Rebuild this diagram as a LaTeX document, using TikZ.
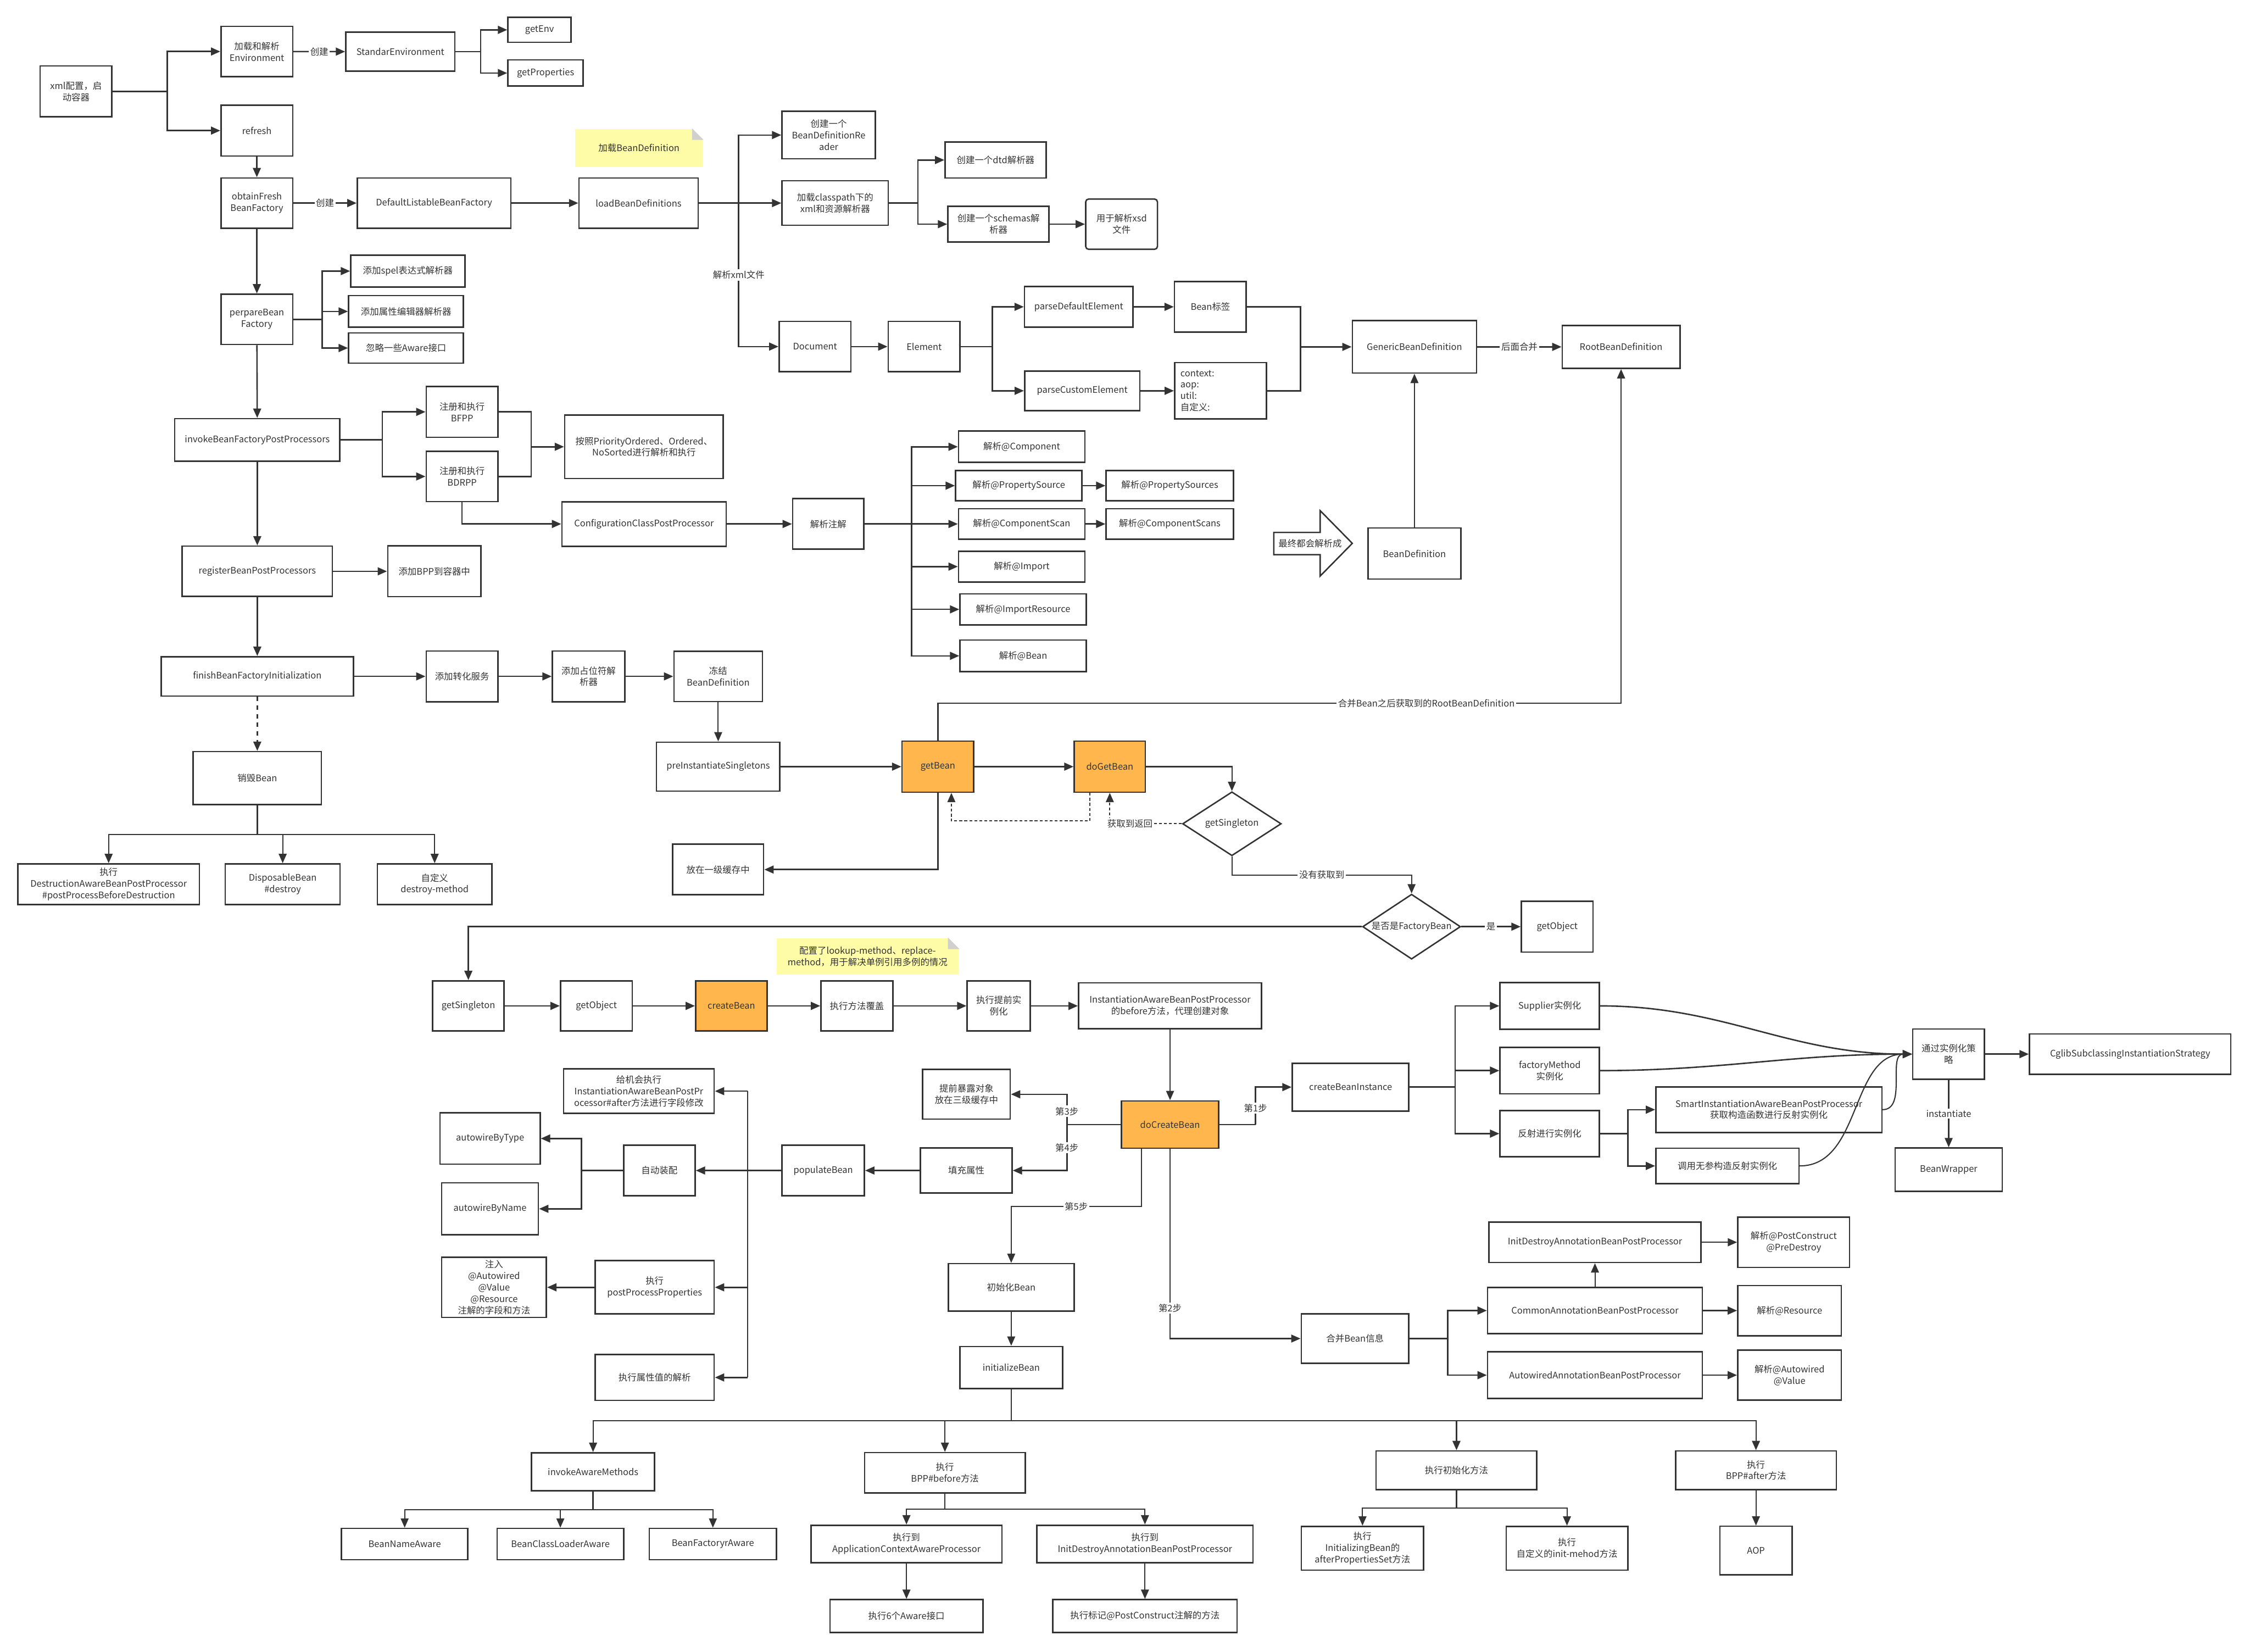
\documentclass[tikz,border=0pt]{standalone}
\usepackage{fontspec}
\setmainfont{Noto Sans CJK SC}
\usetikzlibrary{arrows.meta,shapes.geometric}
\definecolor{linegray}{HTML}{333333}
\definecolor{beanorange}{HTML}{FFB74D}
\definecolor{notey}{HTML}{FFFCA8}
\definecolor{foldgray}{HTML}{D0D0D0}

\begin{document}
\begin{tikzpicture}[x=1pt,y=-1pt,>={Triangle[length=6.5pt,width=5.5pt]},
  line width=1pt,color=linegray,font=\fontsize{6.3}{8}\selectfont,
  box/.style={draw,rectangle,inner sep=1pt,align=center},
  sz/.style 2 args={minimum width=#1,minimum height=#2},
  bean/.style={box,fill=beanorange},
  cond/.style={draw,diamond,aspect=1.5,inner sep=0pt,align=center},
  notebox/.style={fill=notey,inner sep=1pt,align=center},
  lbl/.style={fill=white,inner sep=1pt},
  thinline/.style={line width=0.8pt},
  ret/.style={line width=0.8pt,dash pattern=on 2pt off 1.5pt}]

  \fill[white] (0,0) rectangle (1568,1151);
  \useasboundingbox (0,0) rectangle (1568,1151);

  % refresh and bean definitions
  \node[box,sz={50}{35.5}]   (xml)       at (53,63.7)     {xml配置，启\\动容器};
  \node[box,sz={50}{35}]     (env)       at (179,35.9)    {加载和解析\\Environment};
  \node[box,sz={76}{27}]     (stdenv)    at (279,36)      {StandarEnvironment};
  \node[box,sz={44}{17.5}]   (getenv)    at (376,20.8)    {getEnv};
  \node[box,sz={52.5}{18.2}] (getprop)   at (380.2,50.9)  {getProperties};
  \node[box,sz={50}{35.3}]   (refresh)   at (179,91)      {refresh};
  \node[box,sz={50}{35}]     (obtain)    at (179,141.5)   {obtainFresh\\BeanFactory};
  \node[box,sz={107}{35}]    (dlbf)      at (302.5,141.5) {DefaultListableBeanFactory};
  \node[box,sz={83}{35}]     (loadbd)    at (445,141.5)   {loadBeanDefinitions};
  \node[notebox,sz={89}{26.4}] (note1)   at (445.3,103.2) {加载BeanDefinition};
  \node[box,sz={65}{33}]     (bdreader)  at (577.5,94.1)  {创建一个\\BeanDefinitionRe\\ader};
  \node[box,sz={74}{31}]     (classpath) at (582,141.5)   {加载classpath下的\\xml和资源解析器};
  \node[box,sz={70.4}{25}]   (dtd)       at (693.8,111.5) {创建一个dtd解析器};
  \node[box,sz={70.4}{25}]   (schemas)   at (695.8,156.2) {创建一个schemas解\\析器};
  \node[box,sz={50}{35},rounded corners=2pt] (xsd) at (781.6,156.2) {用于解析xsd\\文件};
  \node[box,sz={50}{35}]     (document)  at (568,241.5)   {Document};
  \node[box,sz={50}{35}]     (element)   at (644,241.5)   {Element};
  \node[box,sz={75.7}{28.3}] (pde)       at (751.8,213.8) {parseDefaultElement};
  \node[box,sz={80.3}{27.6}] (pce)       at (754.2,272.3) {parseCustomElement};
  \node[box,sz={50}{35.4}]   (beantag)   at (843.5,213.8) {Bean标签};
  \node[box,text width=56pt,inner sep=4pt,minimum height=39.4,align=left] (ctx) at (850.6,272.3) {context:\\aop:\\util:\\自定义:};
  \node[box,sz={86.6}{36.5}] (generic)   at (985.7,241.7) {GenericBeanDefinition};
  \node[box,sz={82}{30}]     (root)      at (1129.7,241.7) {RootBeanDefinition};
  \node[box,sz={50}{35}]     (perpare)   at (179,222.5)   {perpareBean\\Factory};
  \node[box,sz={79.5}{22.3}] (spel)      at (284.2,188.9) {添加spel表达式解析器};
  \node[box,sz={80}{22}]     (editor)    at (283,217)     {添加属性编辑器解析器};
  \node[box,sz={80}{21}]     (aware)     at (283,242.5)   {忽略一些Aware接口};
  \node[box,sz={115}{29.6}]  (invoke)    at (179.3,306.5) {invokeBeanFactoryPostProcessors};
  \node[box,sz={50}{35.4}]   (bfpp)      at (322,287)     {注册和执行\\BFPP};
  \node[box,sz={50}{35}]     (bdrpp)     at (322,332)     {注册和执行\\BDRPP};
  \node[box,sz={110.5}{44.2}] (order)    at (448.8,311.3) {按照PriorityOrdered、Ordered、\\NoSorted进行解析和执行};
  \node[box,sz={114.4}{31}]  (ccpp)      at (448.8,365.1) {ConfigurationClassPostProcessor};
  \node[box,sz={49.6}{35.2}] (parseanno) at (577.2,365.1) {解析注解};
  \node[box,sz={88}{21.8}]   (pcomp)     at (712,311.3)   {解析@Component};
  \node[box,sz={88}{21.2}]   (ppsrc)     at (710,338.4)   {解析@PropertySource};
  \node[box,sz={88.7}{21.2}] (ppsrcs)    at (815.2,338.4) {解析@PropertySources};
  \node[box,sz={88}{21.2}]   (pscan)     at (712,365.1)   {解析@ComponentScan};
  \node[box,sz={88.7}{21.2}] (pscans)    at (815.2,365.1) {解析@ComponentScans};
  \node[box,sz={88}{21.5}]   (pimport)   at (712,394.8)   {解析@Import};
  \node[box,sz={88}{21.6}]   (pimpres)   at (713,424.6)   {解析@ImportResource};
  \node[box,sz={88}{22}]     (pbean)     at (713,457)     {解析@Bean};
  \node[box,sz={64.8}{35.5}] (bd)        at (985.7,385.7) {BeanDefinition};
  \node[box,sz={104.7}{35.1}] (register) at (179.3,398.1) {registerBeanPostProcessors};
  \node[box,sz={65}{35.4}]   (addbpp)    at (302.7,398.1) {添加BPP到容器中};
  \node[box,sz={134}{27.5}]  (finish)    at (179.3,471.3) {finishBeanFactoryInitialization};
  \node[box,sz={50}{35.3}]   (convsvc)   at (322,471.3)   {添加转化服务};
  \node[box,sz={50.5}{35.3}] (placeholder) at (410.2,471.3) {添加占位符解\\析器};
  \node[box,sz={61.7}{35.1}] (freeze)    at (500.5,471.3) {冻结\\BeanDefinition};
  \node[box,sz={89.4}{37}]   (destroy)   at (179.3,542.2) {销毁Bean};
  \node[box,sz={126.6}{28.3}] (dab)      at (75.7,616.1)  {执行\\DestructionAwareBeanPostProcessor\\\#postProcessBeforeDestruction};
  \node[box,sz={80}{28.3}]   (disp)      at (197,616.1)   {DisposableBean\\\#destroy};
  \node[box,sz={79.8}{28.3}] (dmethod)   at (302.9,616.1) {自定义\\destroy-method};

  % getBean
  \node[box,sz={86}{34.2}]   (preinst)   at (500.5,534.2) {preInstantiateSingletons};
  \node[bean,sz={50}{35.5}]  (getbean)   at (653.6,534.2) {getBean};
  \node[bean,sz={49.6}{35.5}] (dogetbean) at (773.4,534.2) {doGetBean};
  \node[box,sz={63.5}{35.2}] (cache1)    at (500.4,605.9) {放在一级缓存中};
  \node[cond,sz={68.8}{44.6}] (gs1)      at (858.5,574)   {getSingleton};
  \node[cond,sz={68.3}{45.3}] (isfb)     at (983.7,645.7) {是否是FactoryBean};
  \node[box,sz={50}{35.4}]   (getobj1)   at (1085.2,645.7) {getObject};

  % createBean
  \node[box,sz={49.8}{35}]   (gs2)       at (326.4,700.9) {getSingleton};
  \node[box,sz={50}{35}]     (getobj2)   at (415.6,700.9) {getObject};
  \node[bean,sz={49.8}{35}]  (createbean) at (509.7,700.9) {createBean};
  \node[box,sz={50.2}{35}]   (override)  at (597.2,700.9) {执行方法覆盖};
  \node[box,sz={44}{35}]     (preinstant) at (696,700.9)  {执行提前实\\例化};
  \node[box,sz={127.5}{32}]  (iabpp)     at (815.4,700.9) {InstantiationAwareBeanPostProcessor\\的before方法，代理创建对象};
  \node[notebox,sz={127}{25.4}] (note2)  at (604.6,666.5) {配置了lookup-method、replace-\\method，用于解决单例引用多例的情况};
  \node[bean,sz={67.7}{33}]  (docreate)  at (815.4,783.6) {doCreateBean};
  \node[box,sz={61}{34.6}]   (early)     at (673.5,762.5) {提前暴露对象\\放在三级缓存中};
  \node[box,sz={63.8}{31.3}] (fill)      at (673.4,815.6) {填充属性};
  \node[box,sz={57.4}{35.2}] (populate)  at (573.7,815.6) {populateBean};
  \node[box,sz={49.8}{35.2}] (autowire)  at (459.5,815.6) {自动装配};
  \node[box,sz={105}{31}]    (chance)    at (445.2,760.3) {给机会执行\\InstantiationAwareBeanPostPr\\ocessor\#after方法进行字段修改};
  \node[box,sz={69.8}{35.8}] (bytype)    at (341.5,793.3) {autowireByType};
  \node[box,sz={67.4}{36.2}] (byname)    at (341.5,842.3) {autowireByName};
  \node[box,sz={73}{42},inner sep=0pt] (inject) at (344.3,897) {注入\\@Autowired\\@Value\\@Resource\\注解的字段和方法};
  \node[box,sz={83}{37.2}]   (ppp)       at (456.2,897)   {执行\\postProcessProperties};
  \node[box,sz={83}{32}]     (resolve)   at (456.2,959.8) {执行属性值的解析};
  \node[box,sz={87.7}{33}]   (initbean)  at (704.7,897)   {初始化Bean};
  \node[box,sz={71.7}{29.4}] (initialize) at (704.7,952.9) {initializeBean};
  \node[box,sz={81.2}{33.3}] (cbi)       at (941.2,757.5) {createBeanInstance};
  \node[box,sz={69.3}{32.6}] (supplier)  at (1080,700.9)  {Supplier实例化};
  \node[box,sz={69.3}{32.3}] (factorym)  at (1080,746)    {factoryMethod\\实例化};
  \node[box,sz={69.3}{32.3}] (reflect)   at (1080,789.9)  {反射进行实例化};
  \node[box,sz={157.5}{31.7}] (smart)    at (1232.7,773.2) {SmartInstantiationAwareBeanPostProcessor\\获取构造函数进行反射实例化};
  \node[box,sz={99.7}{24.7}] (noarg)     at (1203.8,812.4) {调用无参构造反射实例化};
  \node[box,sz={50}{35}]     (strategy)  at (1358,734.5)  {通过实例化策\\略};
  \node[box,sz={140.3}{28.1}] (cglib)    at (1484.5,734.5) {CglibSubclassingInstantiationStrategy};
  \node[box,sz={74.6}{30.2}] (wrapper)   at (1358,815)    {BeanWrapper};
  \node[box,sz={75}{34.6}]   (merge)     at (944.3,932.7) {合并Bean信息};
  \node[box,sz={147.8}{28.2}] (initdestroy) at (1111.5,865.6) {InitDestroyAnnotationBeanPostProcessor};
  \node[box,sz={149.7}{32.3}] (common)   at (1111.5,913.2) {CommonAnnotationBeanPostProcessor};
  \node[box,sz={149.7}{32.5}] (autowiredbpp) at (1111.5,958.2) {AutowiredAnnotationBeanPostProcessor};
  \node[box,sz={77.9}{35.1}] (postcons)  at (1250,865.6)  {解析@PostConstruct\\@PreDestroy};
  \node[box,sz={72.2}{35}]   (resource)  at (1247.1,913.2) {解析@Resource};
  \node[box,sz={72.2}{35}]   (autowiredval) at (1247.1,958.2) {解析@Autowired\\@Value};

  % initializeBean
  \node[box,sz={85.8}{26.5}] (invaware)  at (413.3,1025.5) {invokeAwareMethods};
  \node[box,sz={111.9}{28}]  (bppbefore) at (658.5,1026.2) {执行\\BPP\#before方法};
  \node[box,sz={112}{27}]    (initmethod) at (1015,1024.5) {执行初始化方法};
  \node[box,sz={112}{27}]    (bppafter)  at (1223.7,1024.5) {执行\\BPP\#after方法};
  \node[box,sz={88}{21.8}]   (beanname)  at (282,1075.9)  {BeanNameAware};
  \node[box,sz={88.2}{21.8}] (beancl)    at (390.5,1075.9) {BeanClassLoaderAware};
  \node[box,sz={88.7}{21.8}] (beanfac)   at (496.8,1075.9) {BeanFactoryrAware};
  \node[box,sz={133}{26.1}]  (acap)      at (631.7,1075.8) {执行到\\ApplicationContextAwareProcessor};
  \node[box,sz={150.5}{26.1}] (idabpp)   at (797.9,1075.8) {执行到\\InitDestroyAnnotationBeanPostProcessor};
  \node[box,sz={106.5}{22.8}] (six)      at (631.7,1126)  {执行6个Aware接口};
  \node[box,sz={128.5}{22.8}] (mark)     at (797.9,1126)  {执行标记@PostConstruct注解的方法};
  \node[box,sz={85.3}{30.5}] (afterprops) at (949.5,1078.8) {执行\\InitializingBean的\\afterPropertiesSet方法};
  \node[box,sz={84.8}{30.5}] (custinit)  at (1092,1078.8) {执行\\自定义的init-mehod方法};
  \node[box,sz={50.2}{33.8}] (aop)       at (1223.7,1080.4) {AOP};

  % note corners and the big arrow
  \fill[white] (note1.north east) -- ++(-8,0) -- ++(8,8) -- cycle;
  \fill[foldgray] ([xshift=-8pt]note1.north east) -- ++(0,8) -- ++(8,0) -- cycle;
  \fill[white] (note2.north east) -- ++(-8,0) -- ++(8,8) -- cycle;
  \fill[foldgray] ([xshift=-8pt]note2.north east) -- ++(0,8) -- ++(8,0) -- cycle;
  \draw[fill=white] (887.7,371) -- (920,371) -- (920,355.8) -- (942.4,378.6)
    -- (920,401.4) -- (920,386.5) -- (887.7,386.5) -- cycle;
  \node (convert) at (913,378.6) {最终都会解析成};

  \coordinate (xmlsplit) at (116.5,63.7);
  \coordinate (envsplit) at (335,36);
  \coordinate (ldsplit)  at (514.8,141.5);
  \coordinate (cpsplit)  at (639.6,141.5);
  \coordinate (elsplit)  at (691.6,241.5);
  \coordinate (gsplit)   at (906.3,241.7);
  \coordinate (ppsplit)  at (224.4,222.5);
  \coordinate (ivsplit)  at (266.4,306.5);
  \coordinate (fpsplit)  at (370.2,311.3);
  \coordinate (pasplit)  at (635.3,365.1);
  \coordinate (dssplit)  at (179.3,581.4);
  \coordinate (rbdl)     at (653.6,490);
  \coordinate (rbdr)     at (1129.7,490);
  \coordinate (nfl)      at (858.5,609.7);
  \coordinate (nfr)      at (983.7,609.7);
  \coordinate (s34)      at (743.5,783.6);
  \coordinate (s1)       at (875,783.6);
  \coordinate (s5a)      at (795.3,840.7);
  \coordinate (s5b)      at (704.7,840.7);
  \coordinate (pbtop)    at (521,760.3);
  \coordinate (pbbot)    at (521,959.8);
  \coordinate (awsplit)  at (405.1,815.6);
  \coordinate (ibus)     at (704.7,990);
  \coordinate (iasplit)  at (413.3,1052);
  \coordinate (bbsplit)  at (658.5,1051.6);
  \coordinate (imsplit)  at (1015,1050.7);
  \coordinate (cisplit)  at (1014,757.5);
  \coordinate (rfsplit)  at (1134.5,789.9);
  \coordinate (mgsplit)  at (1009,932.7);

  \path[->]
    (env) edge node[lbl] {创建} (stdenv)
    (refresh) edge (obtain)
    (obtain) edge node[lbl] {创建} (dlbf)
    (obtain) edge (perpare)
    (perpare) edge (invoke)
    (invoke) edge (register)
    (register) edge (finish)
    (register) edge (addbpp)
    (dlbf) edge (loadbd)
    (ldsplit) edge (classpath)
    (schemas) edge (xsd)
    (document) edge (element)
    (pde) edge (beantag)
    (pce) edge (ctx)
    (gsplit) edge (generic)
    (generic) edge node[lbl] {后面合并} (root)
    (bd) edge[thinline] (generic)
    (fpsplit) edge (order)
    (ccpp) edge (parseanno)
    (ppsrc) edge (ppsrcs)
    (pscan) edge (pscans)
    (finish) edge (convsvc)
    (convsvc) edge (placeholder)
    (placeholder) edge (freeze)
    (freeze) edge[thinline] (preinst)
    (finish) edge[dashed] (destroy)
    (preinst) edge (getbean)
    (getbean) edge (dogetbean)
    (isfb) edge node[lbl] {是} (getobj1)
    (gs2) edge (getobj2)
    (getobj2) edge (createbean)
    (createbean) edge (override)
    (override) edge (preinstant)
    (preinstant) edge (iabpp)
    (iabpp) edge[thinline] (docreate)
    (fill) edge (populate)
    (populate) edge (autowire)
    (ppp) edge (inject)
    (initbean) edge[thinline] (initialize)
    (acap) edge[thinline] (six)
    (idabpp) edge[thinline] (mark)
    (bppafter) edge[thinline] (aop)
    (strategy) edge (cglib)
    (strategy) edge[thinline] node[lbl] {instantiate} (wrapper)
    (common) edge[thinline] (initdestroy)
    (initdestroy) edge (postcons)
    (common) edge (resource)
    (autowiredbpp) edge (autowiredval);

  \draw (xml) -- (xmlsplit);
  \draw[->] (xmlsplit) |- (env);
  \draw[->] (xmlsplit) |- (refresh);
  \draw (stdenv) -- (envsplit);
  \draw[->] (envsplit) |- (getenv);
  \draw[->] (envsplit) |- (getprop);
  \draw (loadbd) -- (ldsplit);
  \draw[->] (ldsplit) |- (bdreader);
  \draw[->] (ldsplit) |- node[lbl,pos=0.25] {解析xml文件} (document);
  \draw (classpath) -- (cpsplit);
  \draw[->] (cpsplit) |- (dtd);
  \draw[->] (cpsplit) |- (schemas);
  \draw (element) -- (elsplit);
  \draw[->] (elsplit) |- (pde);
  \draw[->] (elsplit) |- (pce);
  \draw (beantag) -| (gsplit);
  \draw (ctx) -| (gsplit);

  \draw (perpare) -- (ppsplit);
  \draw[->] (ppsplit) |- (spel);
  \draw[->] (ppsplit) |- (editor);
  \draw[->] (ppsplit) |- (aware);
  \draw (invoke) -- (ivsplit);
  \draw[->] (ivsplit) |- (bfpp);
  \draw[->] (ivsplit) |- (bdrpp);
  \draw (bfpp) -| (fpsplit);
  \draw (bdrpp) -| (fpsplit);
  \draw[->] (bdrpp) |- (ccpp);
  \draw (parseanno) -- (pasplit);
  \foreach \ann in {pcomp,ppsrc,pscan,pimport,pimpres,pbean}
    \draw[->] (pasplit) |- (\ann);

  \draw (destroy) -- (dssplit);
  \foreach \dst in {dab,disp,dmethod}
    \draw[->,thinline] (dssplit) -| (\dst);

  % getBean loop
  \draw[->,thinline] (dogetbean) -| (gs1);
  \draw[->,ret] (gs1) -| node[lbl,pos=0.36] {获取到返回} (dogetbean);
  \draw[->,ret] ([xshift=-14pt]dogetbean.south) -- ++(0,19.6) -| ([xshift=9.4pt]getbean.south);
  \draw[->] (getbean) |- (cache1);
  \draw[->] (getbean) -- (rbdl) -- node[lbl,pos=0.715] {合并Bean之后获取到的RootBeanDefinition} (rbdr) -- (root);
  \draw[->,thinline] (gs1) -- (nfl) -- node[lbl] {没有获取到} (nfr) -- (isfb);
  \draw[->] (isfb) -| (gs2);

  % doCreateBean steps
  \draw (docreate) -- (s34);
  \draw[->] (s34) |- node[lbl,pos=0.22] {第3步} (early);
  \draw[->] (s34) |- node[lbl,pos=0.25] {第4步} (fill);
  \draw (docreate) -- (s1);
  \draw[->] (s1) |- node[lbl,pos=0.22] {第1步} (cbi);
  \draw[->,thinline] (docreate.south -| s5a) -- (s5a) -- node[lbl] {第5步} (s5b) -- (initbean);
  \draw[->,thinline] (docreate) |- node[lbl,pos=0.42] {第2步} (merge);

  \draw (pbtop) -- (pbbot);
  \draw[->] (pbtop) -- (chance);
  \draw[->] (pbtop |- ppp) -- (ppp);
  \draw[->] (pbbot) -- (resolve);
  \draw (autowire) -- (awsplit);
  \draw[->] (awsplit) |- (bytype);
  \draw[->] (awsplit) |- (byname);

  \draw (initialize) -- (ibus);
  \foreach \stp in {invaware,bppbefore,initmethod,bppafter}
    \draw[->,thinline] (ibus) -| (\stp);
  \draw (invaware) -- (iasplit);
  \foreach \aw in {beanname,beancl,beanfac}
    \draw[->,thinline] (iasplit) -| (\aw);
  \draw (bppbefore) -- (bbsplit);
  \draw[->,thinline] (bbsplit) -| (acap);
  \draw[->,thinline] (bbsplit) -| (idabpp);
  \draw (initmethod) -- (imsplit);
  \draw[->,thinline] (imsplit) -| (afterprops);
  \draw[->,thinline] (imsplit) -| (custinit);

  % instantiation
  \draw (cbi) -- (cisplit);
  \draw[->] (cisplit) |- (supplier);
  \draw[->] (cisplit) |- (factorym);
  \draw[->] (cisplit) |- (reflect);
  \draw (reflect) -- (rfsplit);
  \draw[->] (rfsplit) |- (smart);
  \draw[->] (rfsplit) |- (noarg);
  \draw[->] (supplier) to[out=0,in=180] (strategy.west);
  \draw[->] (factorym) to[out=0,in=180] (strategy.west);
  \draw[->,thinline] (smart) to[out=0,in=180] (strategy.west);
  \draw[->,thinline] (noarg) to[out=0,in=180] (strategy.west);

  \draw (merge) -- (mgsplit);
  \draw[->] (mgsplit) |- (common);
  \draw[->] (mgsplit) |- (autowiredbpp);
\end{tikzpicture}
\end{document}
